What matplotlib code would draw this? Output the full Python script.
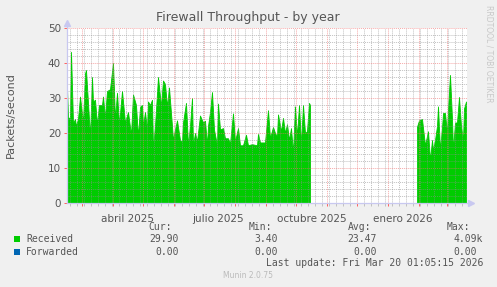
import datetime as dt
import matplotlib
matplotlib.use("Agg")
import matplotlib.pyplot as plt
import matplotlib.dates as mdates
from matplotlib.ticker import MultipleLocator

# yearly munin graph: 400 days ending at the last update
end = dt.datetime(2026, 3, 20, 1, 5)
start = end - dt.timedelta(days=400)

# day offsets from the left edge of the graph, packets/second
seg1_days = [0, 1, 3, 4, 6, 8, 9, 11, 13, 16, 18, 19, 21, 23, 25, 26, 28, 30, 32, 35,
             36, 38, 40, 43, 46, 48, 50, 52, 55, 58, 61, 64, 66, 69, 71, 73, 75, 76, 78, 80,
             81, 83, 85, 86, 88, 91, 94, 96, 98, 100, 102, 105, 106, 108, 110, 113, 115, 116,
             119, 121, 123, 125, 126, 128, 130, 133, 136, 138, 140, 141, 143, 145, 147, 150,
             151, 153, 156, 158, 161, 163, 166, 168, 171, 173, 176, 179, 181, 185, 190, 191,
             193, 198, 201, 203, 206, 208, 210, 211, 214, 216, 218, 220, 222, 224, 226, 228,
             230, 232, 234, 236, 238, 240, 242, 243]
seg1_received = [33, 24.6, 24, 43.2, 22.8, 24, 22, 24, 30.4, 23, 37, 38, 28.6, 19, 36, 29, 29.5, 22.5, 28, 28,
                 30.4, 24.4, 32, 32.5, 40, 24, 31.5, 22.5, 32, 23, 26, 19.5, 31, 28, 19, 27.5, 28, 22, 26, 21,
                 29, 28, 29.5, 15.7, 22, 36, 27.6, 35, 34, 27.6, 33, 22, 18, 21, 23.6, 18, 17.5, 23,
                 28.6, 16.5, 22, 30, 16.5, 20, 17.6, 25, 23, 23.5, 16.5, 22, 26, 31.7, 21, 16.5,
                 28.4, 21, 21.4, 18.5, 18.5, 17, 25.6, 17.6, 21.4, 16.5, 16.5, 19.5, 16.5, 16.8, 16.5, 19.7,
                 17.3, 17.3, 26.5, 18.6, 21.7, 20, 19, 25.3, 20.5, 24.3, 20, 22.5, 18, 21.4, 14.4, 27.6,
                 19, 28, 16.8, 28, 20, 20.5, 28.6, 28]
seg2_days = [350, 352, 355, 358, 361, 363, 365, 366, 368, 370, 371, 373, 375, 376, 378, 380,
             381, 383, 385, 386, 388, 390, 392, 394, 396, 397, 399]
seg2_received = [21.8, 23.6, 24, 16.5, 20.5, 12.3, 18, 15.2, 18, 22, 27.6, 15.2, 21.5, 25.7, 25.7, 20,
                 26.7, 36.6, 24, 15.2, 23, 23, 30.3, 22, 18, 27, 29]

month_labels = ["abril 2025", "julio 2025", "octubre 2025", "enero 2026"]
month_label_dates = [dt.datetime(2025, 4, 15), dt.datetime(2025, 7, 15),
                     dt.datetime(2025, 10, 16), dt.datetime(2026, 1, 15)]

legend_names = ["Received", "Forwarded"]
legend_colors = ["#00CC00", "#0066B3"]
cur_vals = ["29.90", "0.00"]
min_vals = ["3.40", "0.00"]
avg_vals = ["23.47", "0.00"]
max_vals = ["4.09k", "0.00"]

W, H = 497, 287
txt = "#555555"
mono = "DejaVu Sans Mono"

fig = plt.figure(figsize=(W / 100, H / 100), dpi=100, facecolor="#F0F0F0")
ax = fig.add_axes([66.5 / W, 84 / H, 400 / W, 175 / H])
ax.set_facecolor("white")


def to_dates(days):
    return [start + dt.timedelta(days=d + 0.5) for d in days]


for days, vals in [(seg1_days, seg1_received), (seg2_days, seg2_received)]:
    x = to_dates(days)
    ax.fill_between(x, 0, vals, color=legend_colors[0], linewidth=0.6, edgecolor=legend_colors[0], zorder=2)
    # forwarded is stacked on top and is zero everywhere
    ax.fill_between(x, vals, vals, color=legend_colors[1], linewidth=0, zorder=2)

ax.set_xlim(start, end)
ax.set_ylim(0, 50)

ax.xaxis.set_major_locator(mdates.MonthLocator())
ax.xaxis.set_minor_locator(mdates.WeekdayLocator(byweekday=mdates.MO))
ax.yaxis.set_major_locator(MultipleLocator(10))
ax.yaxis.set_minor_locator(MultipleLocator(2))
ax.set_xticklabels([])

ax.grid(which="major", color="#F07070", alpha=0.6, linestyle=(0, (1, 1)), linewidth=0.7, zorder=3)
ax.grid(which="minor", color="#909090", alpha=0.55, linestyle=(0, (1, 1)), linewidth=0.7, zorder=3)
ax.set_axisbelow(False)

ax.tick_params(axis="x", which="major", length=2.5, color="#FF6060", width=0.7, direction="out")
ax.tick_params(axis="x", which="minor", length=2, color="#C0C0C0", width=0.7, direction="out")
ax.tick_params(axis="y", which="major", length=2.5, color="#FF6060", width=0.7,
               labelsize=7.5, labelcolor=txt, pad=1.5)
ax.tick_params(axis="y", which="minor", length=0)

for s in ax.spines.values():
    s.set_visible(False)

axis_col = "#C8C8F0"
ax.plot([0, 1.012], [0, 0], transform=ax.transAxes, color=axis_col, lw=0.9, clip_on=False, zorder=4)
ax.plot([0, 0], [0, 1.03], transform=ax.transAxes, color=axis_col, lw=0.9, clip_on=False, zorder=4)
ax.plot([1.012], [0], transform=ax.transAxes, marker=">", ms=4.5, color=axis_col, clip_on=False, zorder=4)
ax.plot([0], [1.03], transform=ax.transAxes, marker="^", ms=4.5, color=axis_col, clip_on=False, zorder=4)

for lab, d in zip(month_labels, month_label_dates):
    ax.text(mdates.date2num(d), -3.0, lab, ha="center", va="top", fontsize=7.5, color=txt)


def px(x, y):
    return x / W, 1 - y / H


fig.text(*px(248, 18), "Firewall Throughput - by year", ha="center", va="center", fontsize=9, color=txt)
fig.text(*px(11, 115), "Packets/second", ha="center", va="center", rotation=90, fontsize=8, color=txt)
fig.text(*px(489, 5), "RRDTOOL / TOBI OETIKER", ha="center", va="top", rotation=270, fontsize=5.5, color="#C8C8C8")

fs = 7
for hdr, xr in [("Cur:", 172), ("Min:", 272), ("Avg:", 371), ("Max:", 470)]:
    fig.text(*px(xr, 227), hdr, ha="right", va="center", fontsize=fs, family=mono, color=txt)

rows_y = [239, 252]
for i in range(2):
    y = rows_y[i]
    fig.patches.append(plt.Rectangle(px(14, y + 3), 6 / W, 6 / H, transform=fig.transFigure,
                                     facecolor=legend_colors[i], edgecolor="none"))
    fig.text(*px(26, y), legend_names[i], ha="left", va="center", fontsize=fs, family=mono, color=txt)
    fig.text(*px(179, y), cur_vals[i], ha="right", va="center", fontsize=fs, family=mono, color=txt)
    fig.text(*px(278, y), min_vals[i], ha="right", va="center", fontsize=fs, family=mono, color=txt)
    fig.text(*px(377, y), avg_vals[i], ha="right", va="center", fontsize=fs, family=mono, color=txt)
    xr = 483 if max_vals[i].endswith("k") else 477
    fig.text(*px(xr, y), max_vals[i], ha="right", va="center", fontsize=fs, family=mono, color=txt)

fig.text(*px(483, 263), "Last update: Fri Mar 20 01:05:15 2026", ha="right", va="center",
         fontsize=fs, family=mono, color=txt)
fig.text(*px(248, 276), "Munin 2.0.75", ha="center", va="center", fontsize=5.5, color="#BBBBBB")

fig.savefig("out.png", dpi=100, facecolor=fig.get_facecolor())
